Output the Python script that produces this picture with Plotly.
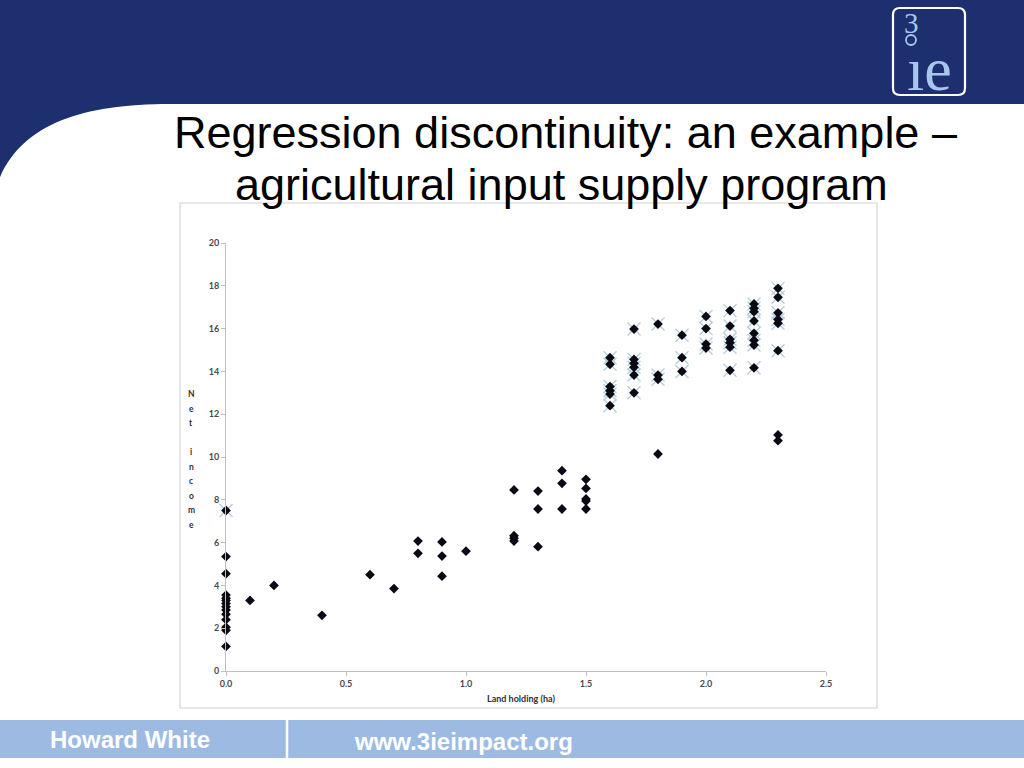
import plotly.graph_objects as go

# ---------------- data ----------------
land_holding = (
    [0.0] * 14
    + [0.1, 0.2, 0.4, 0.6, 0.7, 0.8, 0.8, 0.9, 0.9, 0.9, 1.0]
    + [1.2] * 4 + [1.3] * 3 + [1.4] * 3 + [1.5] * 5
    + [1.6] * 6 + [1.7] * 6 + [1.8] * 4 + [1.9] * 3
    + [2.0] * 4 + [2.1] * 6 + [2.2] * 8 + [2.3] * 8
)
net_income = (
    [7.5, 5.35, 4.55, 3.55, 3.4, 3.3, 3.15, 3.0, 2.85, 2.65, 2.4, 2.05, 1.9, 1.15]
    + [3.3, 4.0, 2.6, 4.5, 3.85, 6.07, 5.5, 6.03, 5.37, 4.43, 5.6]
    + [8.46, 6.32, 6.2, 6.07]
    + [8.41, 7.57, 5.81]
    + [9.36, 8.77, 7.57]
    + [8.96, 8.53, 8.04, 7.94, 7.57]
    + [14.64, 14.33, 13.29, 13.1, 12.94, 12.4]
    + [15.98, 14.56, 14.38, 14.19, 13.83, 13.0]
    + [16.21, 13.83, 13.63, 10.14]
    + [15.69, 14.64, 14.0]
    + [16.57, 16.0, 15.28, 15.09]
    + [16.84, 16.12, 15.5, 15.34, 15.13, 14.05]
    + [17.15, 16.95, 16.79, 16.36, 15.78, 15.45, 15.23, 14.17]
    + [17.88, 17.46, 16.74, 16.43, 16.25, 14.97, 11.03, 10.76]
)
# points highlighted with the light-blue cross marker
treated_land = [0.0] + [x for x, y in zip(land_holding, net_income) if x >= 1.6 and y > 12]
treated_income = [7.5] + [y for x, y in zip(land_holding, net_income) if x >= 1.6 and y > 12]

x_ticks = [0, 0.5, 1.0, 1.5, 2.0, 2.5]
x_tick_labels = ["0.0", "0.5", "1.0", "1.5", "2.0", "2.5"]
y_ticks = [0, 2, 4, 6, 8, 10, 12, 14, 16, 18, 20]

title_lines = ["Regression discontinuity: an example –", "agricultural input supply program"]
y_title_letters = ["N", "e", "t", "", "i", "n", "c", "o", "m", "e"]

# ---------------- layout geometry (pixels) ----------------
W, H = 1024, 768
L, R, T, B = 226, 826, 243, 671

def px(x):
    return (x - L) / (R - L)

def py(y):
    return (B - y) / (B - T)

def P(x, y):
    return f"{px(x):.5f},{py(y):.5f}"

NAVY = "#1d2f6e"
FOOT = "#9dbbe2"
LOGO = "#a9c6ec"

fig = go.Figure()

fig.add_trace(go.Scatter(
    x=treated_land, y=treated_income, mode="markers",
    marker=dict(symbol="x-thin", size=13, line=dict(width=1.4, color="#b3cfe2")),
    cliponaxis=False, hoverinfo="skip", showlegend=False,
))
fig.add_trace(go.Scatter(
    x=land_holding, y=net_income, mode="markers",
    marker=dict(symbol="diamond", size=7.5, color="#0a0a14"),
    cliponaxis=False, showlegend=False,
))

shapes = []
# navy header with curved lower-left corner
header = (f"M {P(-2,-2)} L {P(1026,-2)} L {P(1026,104)} L {P(170,104)} "
          f"C {P(80,104)} {P(20,125)} {P(-2,182)} Z")
shapes.append(dict(type="path", xref="paper", yref="paper", path=header,
                   fillcolor=NAVY, line=dict(width=0), layer="below"))
# logo rounded rectangle
x0, y0, x1, y1, r = 893, 8, 965, 95, 7
logo = (f"M {P(x0+r,y0)} L {P(x1-r,y0)} Q {P(x1,y0)} {P(x1,y0+r)} "
        f"L {P(x1,y1-r)} Q {P(x1,y1)} {P(x1-r,y1)} L {P(x0+r,y1)} "
        f"Q {P(x0,y1)} {P(x0,y1-r)} L {P(x0,y0+r)} Q {P(x0,y0)} {P(x0+r,y0)} Z")
shapes.append(dict(type="path", xref="paper", yref="paper", path=logo,
                   fillcolor=NAVY, line=dict(width=2.2, color="white"), layer="below"))
# dot of the i in the logo
shapes.append(dict(type="circle", xref="paper", yref="paper",
                   x0=px(906), x1=px(916), y0=py(45), y1=py(35),
                   line=dict(width=1.8, color=LOGO), fillcolor=NAVY, layer="above"))
# chart box
shapes.append(dict(type="rect", xref="paper", yref="paper",
                   x0=px(180), x1=px(877), y0=py(708), y1=py(203),
                   fillcolor="white", line=dict(width=1.2, color="#d4d4d4"), layer="below"))
# footer band
shapes.append(dict(type="rect", xref="paper", yref="paper",
                   x0=px(-2), x1=px(1026), y0=py(758), y1=py(720),
                   fillcolor=FOOT, line=dict(width=0), layer="below"))
shapes.append(dict(type="line", xref="paper", yref="paper",
                   x0=px(287), x1=px(287), y0=py(758), y1=py(720),
                   line=dict(width=2.5, color="white"), layer="below"))

annotations = []
def ann(text, x, y, size, color="black", family="Liberation Sans", xanchor="center", yanchor="middle", bold=False):
    if bold:
        text = f"<b>{text}</b>"
    annotations.append(dict(text=text, x=px(x), y=py(y), xref="paper", yref="paper",
                            showarrow=False, xanchor=xanchor, yanchor=yanchor,
                            font=dict(size=size, color=color, family=family)))

ann(title_lines[0], 565, 132, 45)
ann(title_lines[1], 561, 185, 45)
ann("3", 911, 23, 29, color=LOGO, family="Liberation Serif")
ann("ıe", 929, 69, 62, color=LOGO, family="Liberation Serif")
ann("Howard White", 130, 739, 24, color="white", bold=True)
ann("www.3ieimpact.org", 463, 741, 24, color="white", bold=True)
ann("Land holding (ha)", 521, 698, 9, color="#303030", family="Lato", bold=True)
for i, letter in enumerate(y_title_letters):
    if letter:
        ann(letter, 191, 394 + i * 14.5, 8.5, color="#303030", family="Lato", bold=True)

tick_font = dict(size=9, color="#4a4a4a", family="Lato", weight="bold")
fig.update_layout(
    width=W, height=H,
    margin=dict(l=L, r=W - R, t=T, b=H - B, pad=0),
    paper_bgcolor="white", plot_bgcolor="rgba(0,0,0,0)",
    shapes=shapes, annotations=annotations,
    xaxis=dict(range=[0, 2.5], tickvals=x_ticks, ticktext=x_tick_labels,
               showline=True, linecolor="#bfbfbf", linewidth=1,
               ticks="outside", ticklen=4, tickcolor="#bfbfbf",
               showgrid=False, zeroline=False, tickfont=tick_font),
    yaxis=dict(range=[0, 20], tickvals=y_ticks,
               showline=True, linecolor="#bfbfbf", linewidth=1,
               ticks="outside", ticklen=4, tickcolor="#bfbfbf",
               showgrid=False, zeroline=False, tickfont=tick_font),
    hovermode="closest",
)

fig.write_html("out.html", config={"displayModeBar": False},
               post_script="document.body.style.margin='0';document.body.style.overflow='hidden';")
